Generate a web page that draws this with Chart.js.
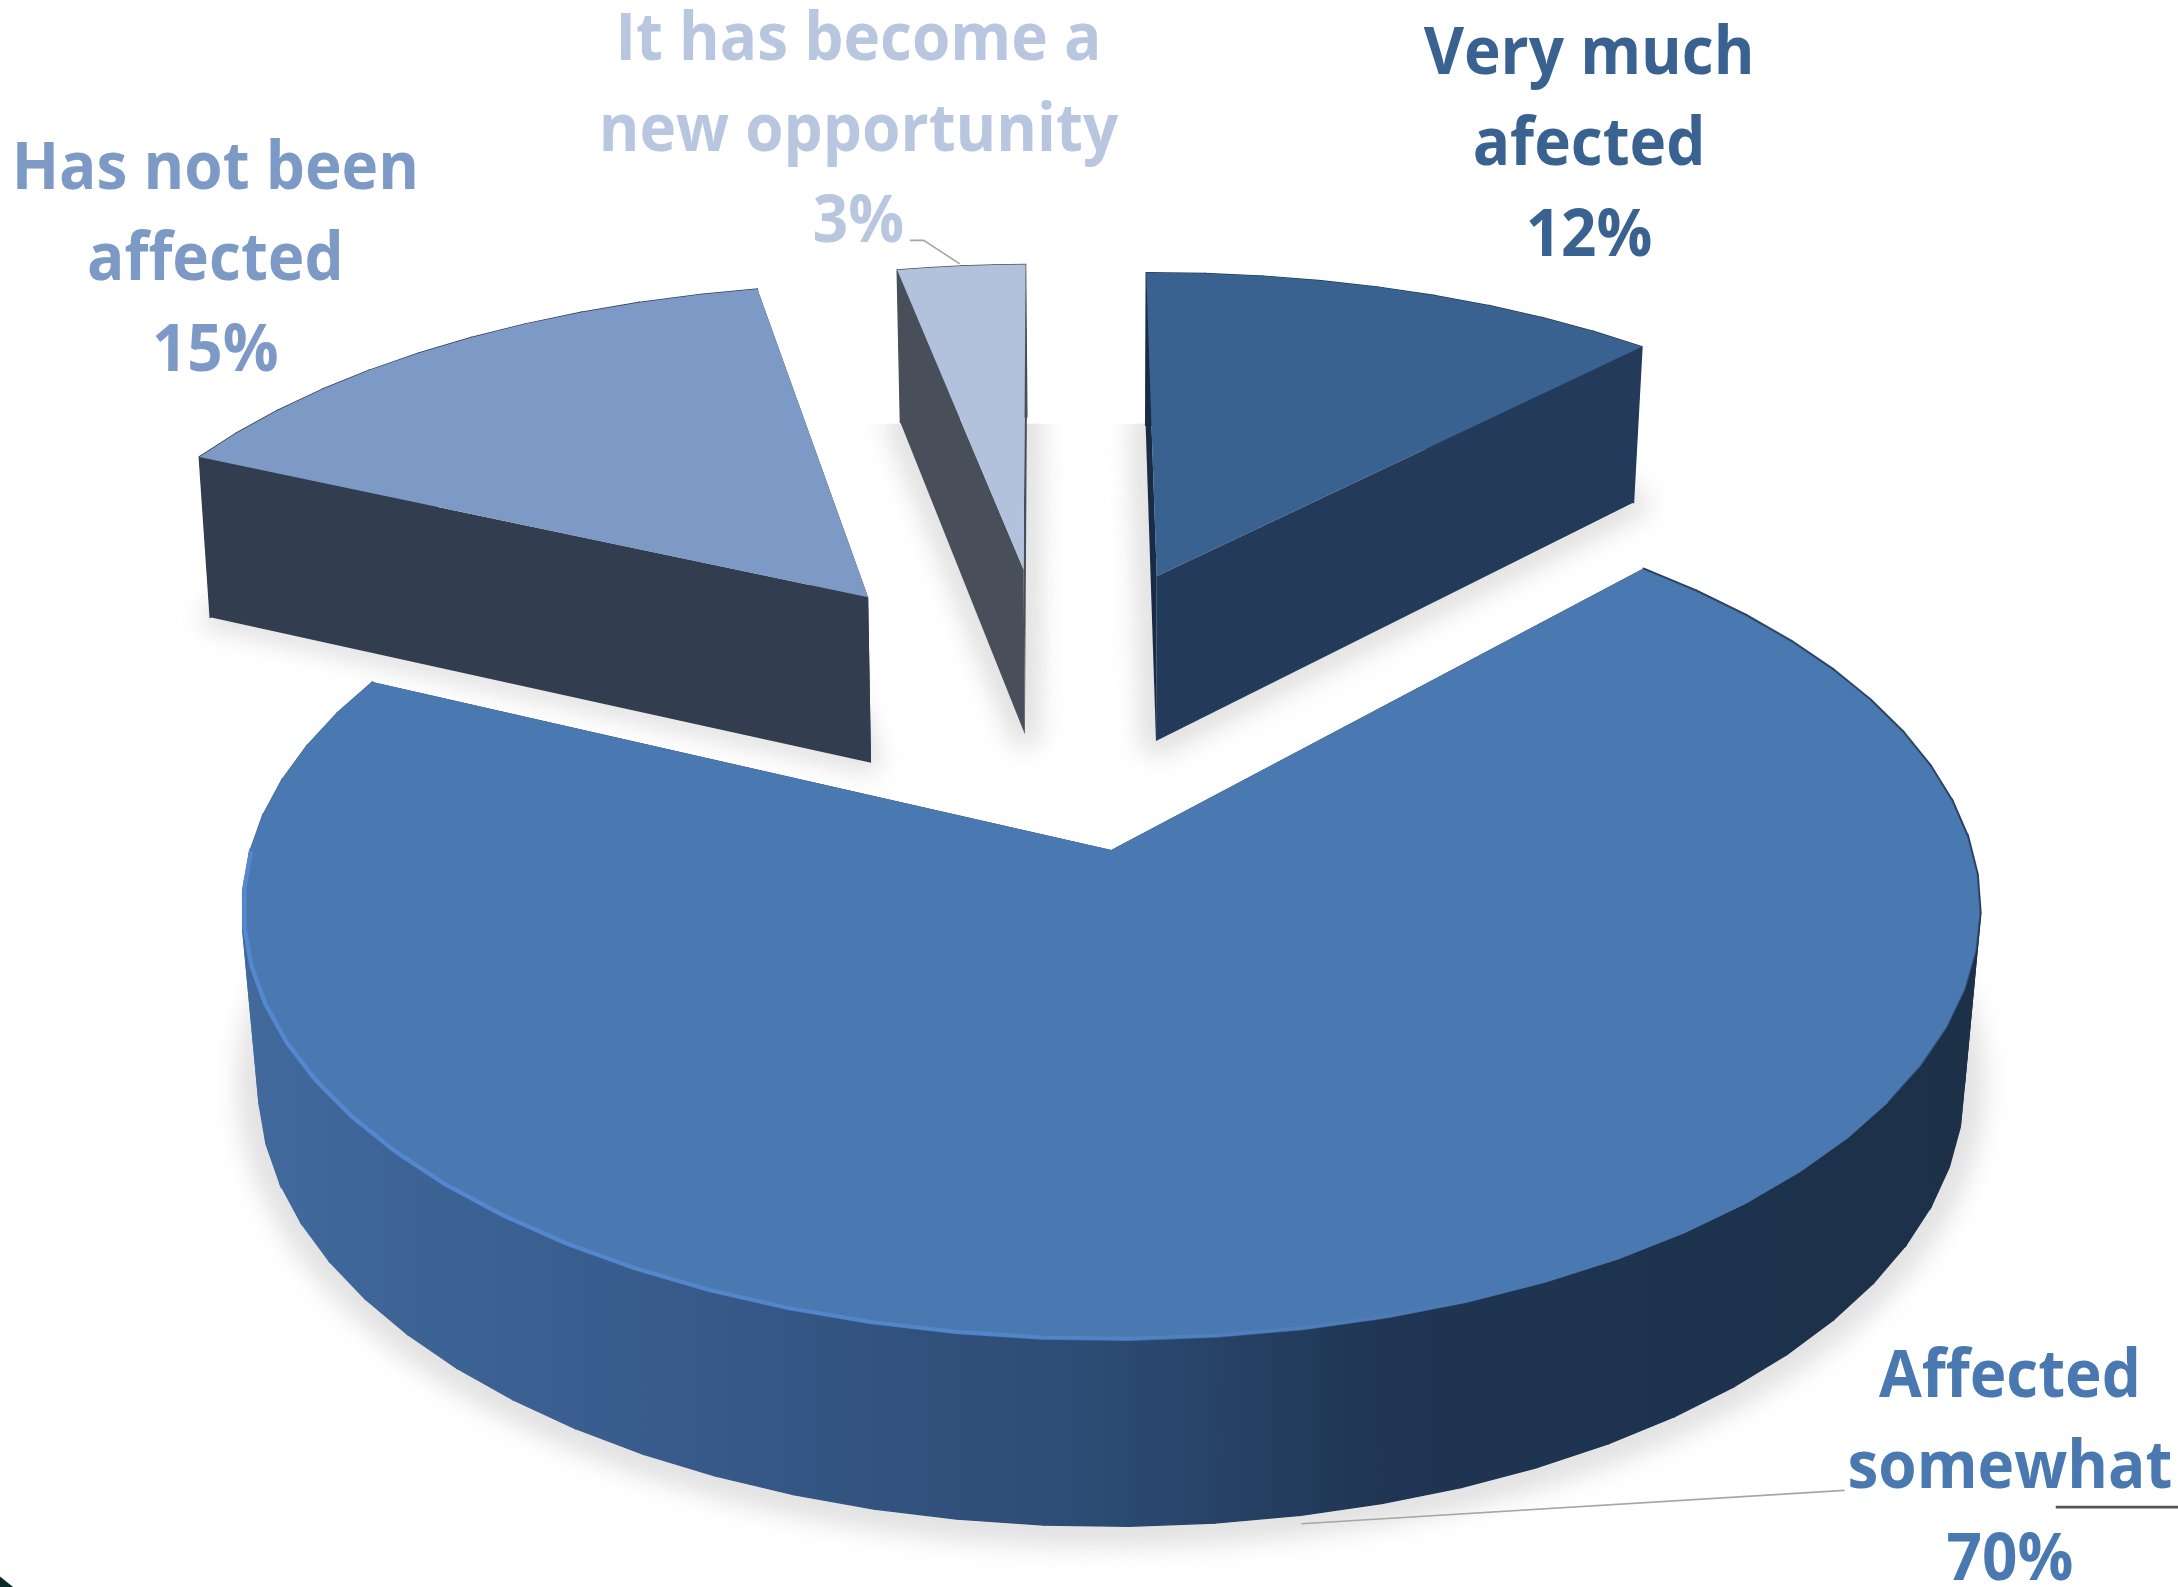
<!DOCTYPE html>
<html><head><meta charset="utf-8">
<style>html,body{margin:0;padding:0;background:#fff;overflow:hidden}canvas{display:block}</style>
<script src="https://cdn.jsdelivr.net/npm/chart.js@4"></script>
</head><body>
<canvas id="c" width="2178" height="1587" style="width:2178px;height:1587px"></canvas>
<script>
const categories = ['Very much afected', 'Affected somewhat', 'Has not been affected', 'It has become a new opportunity'];
const values = [12, 70, 15, 3];
const labelLines = [['Very much', 'afected'], ['Affected', 'somewhat'], ['Has not been', 'affected'], ['It has become a', 'new opportunity']];
const topColors = ['#3a6290', '#4a78b0', '#7d99c5', '#b3c2dc'];
const textColors = ['#3a6290', '#4a78b0', '#7d99c5', '#b8c6df'];
const wallColors = ['#243a5a', '#1e3350', '#323d50', '#484f5a'];
const sideColors = ['#1a2c45', '#1e3350', '#323d50', '#484f5a'];

const S = 2178 / 1568;
const CX = 800, CY = 612, A = 620, B = 306, K = 0.138;
const explode = [[0.058, 0.707], [0, 0], [-0.3075, 0.648], [-0.112, 0.726]];
const radiusU = [1.0, 1, 0.998, 0.98];
const radiusV = [0.965, 0.995, 0.985, 0.975];
const turn = [-0.008, -0.006, -0.008, -0.011];
const dropScale = [0.984, 0.981, 0.988, 0.985];
const labelPos = [[1144, 53], [1447, 1006], [155, 136], [618, 43]];
const shadowClip = [305, 0, 380, 305];
const shadowWidth = [22, 30, 14, 22];
const LINE = 65.6;

function proj(u, v) {
  const w = 1 + K * v;
  return { x: CX + A * u / w, y: CY - B * v / w, v };
}
function dropper(i) {
  return p => ({ x: CX + (p.x - CX) * dropScale[i], y: p.y + 125 - 9 * p.v, v: p.v });
}
function trace(ctx, pts) {
  ctx.beginPath();
  pts.forEach((p, i) => i ? ctx.lineTo(p.x, p.y) : ctx.moveTo(p.x, p.y));
  ctx.closePath();
}
function geom(arc, i) {
  const a0 = arc.startAngle + Math.PI / 2 + turn[i], a1 = arc.endAngle + Math.PI / 2 + turn[i];
  const [du, dv] = explode[i];
  const n = Math.max(4, Math.round((a1 - a0) * 180 / Math.PI / 5));
  const rim = [];
  for (let k = 0; k <= n; k++) {
    const t = a0 + (a1 - a0) * k / n;
    rim.push(proj(du + radiusU[i] * Math.sin(t), dv + radiusV[i] * Math.cos(t)));
  }
  const apex = proj(du, dv);
  return { apex, rim, rimB: rim.map(dropper(i)) };
}
function drawSlice(ctx, g, i) {
  const drop = dropper(i);
  const dApex = drop(g.apex);

  // soft cast shadow: a blurred grey copy of the foot of the slice
  ctx.save();
  ctx.beginPath();
  ctx.rect(0, shadowClip[i], 1568, 1143);
  ctx.clip();
  ctx.filter = 'blur(13px)';
  ctx.fillStyle = '#e2e2e2';
  ctx.strokeStyle = '#e2e2e2';
  ctx.lineJoin = 'round';
  ctx.lineWidth = shadowWidth[i];
  if (i === 1) {
    trace(ctx, g.rimB.filter(p => p.v < 0.3));
  } else {
    trace(ctx, [...g.rimB, dApex]);
  }
  ctx.fill();
  ctx.stroke();
  ctx.restore();

  // outer curved wall, one facet at a time
  let wall = wallColors[i];
  if (i === 1) {
    const gr = ctx.createLinearGradient(185, 0, 1413, 0);
    gr.addColorStop(0, '#41699c');
    gr.addColorStop(0.25, '#375a8a');
    gr.addColorStop(0.5, '#2c4b73');
    gr.addColorStop(0.66, '#1f3553');
    gr.addColorStop(1, '#1c3048');
    wall = gr;
  }
  ctx.fillStyle = wall;
  ctx.strokeStyle = wall;
  ctx.lineWidth = 1;
  for (let k = 0; k + 1 < g.rim.length; k++) {
    trace(ctx, [g.rim[k], g.rim[k + 1], g.rimB[k + 1], g.rimB[k]]);
    ctx.fill();
    ctx.stroke();
  }

  // the two cut walls
  const first = g.rim[0], last = g.rim[g.rim.length - 1];
  ctx.fillStyle = sideColors[i];
  trace(ctx, [g.apex, first, drop(first), dApex]);
  ctx.fill();
  ctx.fillStyle = wallColors[i];
  trace(ctx, [g.apex, last, drop(last), dApex]);
  ctx.fill();

  // top face
  ctx.fillStyle = topColors[i];
  trace(ctx, [g.apex, ...g.rim]);
  ctx.fill();

  if (i === 1) {
    // light bevel at the front left, dark edge at the right
    const gr = ctx.createLinearGradient(175, 0, 1100, 0);
    gr.addColorStop(0, 'rgba(84,136,208,1)');
    gr.addColorStop(0.6, 'rgba(84,136,208,0.8)');
    gr.addColorStop(1, 'rgba(84,136,208,0)');
    ctx.strokeStyle = gr;
    ctx.lineWidth = 3;
    ctx.beginPath();
    let started = false;
    g.rim.forEach(p => {
      if (p.x > 1100 || p.v > 0.05) return;
      const q = { x: p.x + (CX - p.x) * 0.002, y: p.y - 1 };
      started ? ctx.lineTo(q.x, q.y) : ctx.moveTo(q.x, q.y);
      started = true;
    });
    ctx.stroke();
    ctx.strokeStyle = 'rgba(28,48,72,0.55)';
    ctx.lineWidth = 1.6;
    ctx.beginPath();
    started = false;
    g.rim.forEach(p => {
      if (p.x < 1180 || p.v < -0.55) return;
      started ? ctx.lineTo(p.x, p.y) : ctx.moveTo(p.x, p.y);
      started = true;
    });
    ctx.stroke();
  }
}

const pie3d = {
  id: 'pie3d',
  beforeDatasetsDraw(chart) {
    const ctx = chart.ctx;
    const arcs = chart.getDatasetMeta(0).data;
    ctx.save();
    ctx.scale(S, S);
    [3, 2, 0, 1].forEach(i => drawSlice(ctx, geom(arcs[i], i), i));

    ctx.strokeStyle = '#a6a6a6';
    ctx.lineWidth = 1.2;
    ctx.beginPath(); ctx.moveTo(655, 173); ctx.lineTo(665, 173); ctx.lineTo(691, 190); ctx.stroke();
    ctx.beginPath(); ctx.moveTo(937, 1097); ctx.lineTo(1328, 1073); ctx.stroke();
    ctx.strokeStyle = '#555555';
    ctx.lineWidth = 2;
    ctx.beginPath(); ctx.moveTo(1480, 1085); ctx.lineTo(1568, 1085); ctx.stroke();
    ctx.fillStyle = '#0b2a2c';
    ctx.beginPath(); ctx.moveTo(0, 1135); ctx.lineTo(10, 1143); ctx.lineTo(0, 1143); ctx.closePath(); ctx.fill();

    ctx.textAlign = 'center';
    ctx.textBaseline = 'alphabetic';
    ctx.font = '700 48px "Open Sans"';
    categories.forEach((c, i) => {
      ctx.fillStyle = textColors[i];
      const [x, y] = labelPos[i];
      [...labelLines[i], values[i] + '%'].forEach((t, k) => {
        ctx.save();
        ctx.translate(x, y + k * LINE);
        ctx.scale(0.93, 1);
        ctx.fillText(t, 0, 0);
        ctx.restore();
      });
    });
    ctx.restore();
    return false;
  }
};

new Chart(document.getElementById('c'), {
  type: 'pie',
  data: { labels: categories, datasets: [{ data: values, backgroundColor: topColors, borderWidth: 0 }] },
  options: {
    responsive: false,
    devicePixelRatio: 1,
    animation: false,
    events: [],
    plugins: { legend: { display: false }, tooltip: { enabled: false } }
  },
  plugins: [pie3d]
});
</script>
</body></html>
